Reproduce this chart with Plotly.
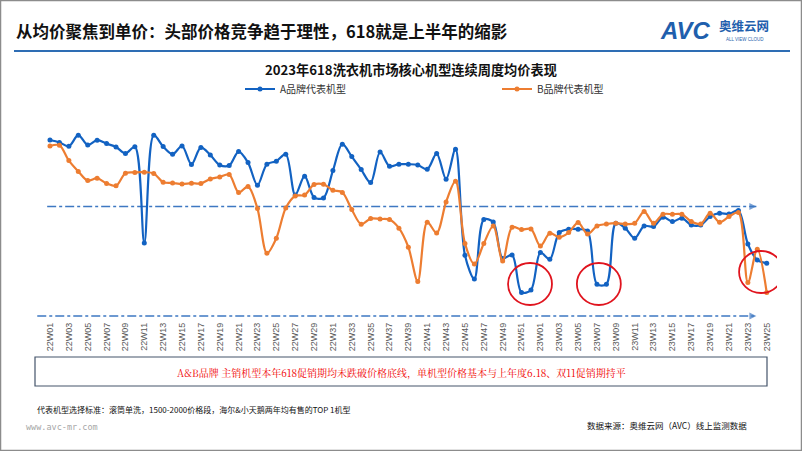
import plotly.graph_objects as go

# ---------------- data ----------------
weeks = [f"22W{i:02d}" for i in range(1, 53)] + [f"23W{i:02d}" for i in range(1, 26)]

brand_a = [2100, 2088, 2069, 2124, 2075, 2099, 2082, 2065, 2033, 2066,
           1585, 2124, 2067, 2029, 2070, 1978, 2063, 2025, 1975, 1972,
           2042, 1987, 1874, 1979, 1994, 2029, 1825, 1919, 1813, 1810,
           1947, 2079, 2017, 1952, 1887, 2040, 1969, 1979, 1979, 1975,
           1954, 2032, 1904, 2054, 1524, 1405, 1702, 1690, 1508, 1525,
           1338, 1350, 1537, 1504, 1637, 1654, 1654, 1645, 1379, 1379,
           1684, 1659, 1609, 1670, 1667, 1714, 1692, 1709, 1675, 1675,
           1717, 1734, 1730, 1747, 1580, 1500, 1484]

brand_b = [2070, 2074, 1997, 1943, 1897, 1909, 1883, 1871, 1934, 1938,
           1939, 1933, 1889, 1885, 1880, 1884, 1883, 1905, 1915, 1927,
           1838, 1867, 1757, 1534, 1609, 1760, 1820, 1825, 1877, 1879,
           1849, 1838, 1752, 1679, 1707, 1705, 1702, 1659, 1564, 1393,
           1689, 1635, 1790, 1894, 1583, 1480, 1582, 1670, 1495, 1664,
           1652, 1655, 1570, 1634, 1614, 1637, 1687, 1630, 1670, 1680,
           1684, 1680, 1684, 1742, 1684, 1729, 1729, 1729, 1692, 1680,
           1734, 1689, 1717, 1737, 1387, 1554, 1337]

upper_ref = 1768   # upper dash-dot reference line
lower_ref = 1220   # lower dash-dot reference line (price floor)

series_names = ["A品牌代表机型", "B品牌代表机型"]
tick_idx = list(range(0, len(weeks), 2))
tick_labels = [weeks[i] for i in tick_idx]

# highlighted weeks (red circles): (x center index, y center value)
highlights = [(50.9, 1380), (58.2, 1380), (75.4, 1440)]

# ---------------- layout constants ----------------
W, H = 802, 451
L, R, T, B = 35, 25, 130, 131
PW, PH = W - L - R, H - T - B
X0, X1 = -1.59, 77.09
Y0, Y1 = 1200, 2150

def px(x):
    return (x - L) / PW

def py(y):
    return (T + PH - y) / PH

BLUE = "#1262C2"
ORANGE = "#ED7D31"
CJK = "Noto Sans CJK SC"

xs = list(range(len(weeks)))
fig = go.Figure()

# reference lines
for ref, xstart in [(upper_ref, -0.3), (lower_ref, -1.35)]:
    fig.add_trace(go.Scatter(
        x=[xstart, 74.9], y=[ref, ref], mode="lines+markers",
        line=dict(color="#3E78C2", width=1.5, dash="dashdot"),
        marker=dict(symbol=["circle", "arrow-right"], size=[0, 7],
                    color="#3E78C2", line=dict(width=0)),
        showlegend=False, hoverinfo="skip"))

fig.add_trace(go.Scatter(
    x=xs, y=brand_a, name=series_names[0], mode="lines+markers",
    line=dict(color=BLUE, width=2.2, shape="spline", smoothing=0.9),
    marker=dict(size=5, color=BLUE)))
fig.add_trace(go.Scatter(
    x=xs, y=brand_b, name=series_names[1], mode="lines+markers",
    line=dict(color=ORANGE, width=2.2, shape="spline", smoothing=0.9),
    marker=dict(size=5, color=ORANGE)))

shapes = []
for cx, cy in highlights:
    shapes.append(dict(type="circle", xref="x", yref="y",
                       x0=cx - 2.33, x1=cx + 2.33, y0=cy - 105, y1=cy + 105,
                       line=dict(color="#E0141E", width=1.8)))
# header rule
shapes.append(dict(type="line", xref="paper", yref="paper",
                   x0=px(14), x1=px(790), y0=py(51), y1=py(51),
                   line=dict(color="#2E6DB4", width=2)))
# text box
shapes.append(dict(type="rect", xref="paper", yref="paper",
                   x0=px(35), x1=px(767), y0=py(386), y1=py(357),
                   line=dict(color="#44546A", width=1.2)))
# outer border
shapes.append(dict(type="rect", xref="paper", yref="paper",
                   x0=px(0.5), x1=px(801.5), y0=py(450.5), y1=py(0.5),
                   line=dict(color="#8C8C8C", width=1.5)))

ann = []
def text(x, y, s, size, color="#000000", xanchor="left", bold=False, family=CJK, yanchor="middle"):
    ann.append(dict(x=px(x), y=py(y), xref="paper", yref="paper", text=(f"<b>{s}</b>" if bold else s),
                    showarrow=False, xanchor=xanchor, yanchor=yanchor,
                    font=dict(size=size, color=color, family=family)))

text(14, 31, "从均价聚焦到单价：头部价格竞争趋于理性，618就是上半年的缩影", 16.5, "#111111", bold=True)
text(411, 70, "2023年618洗衣机市场核心机型连续周度均价表现", 13.2, "#111111", xanchor="center", bold=True)
text(401, 372, "A&B品牌 主销机型本年618促销期均未跌破价格底线，单机型价格基本与上年度6.18、双11促销期持平",
     10, "#F00000", xanchor="center", family="Noto Serif CJK SC, Noto Sans CJK SC")
text(35, 409, "代表机型选择标准：滚筒单洗，1500-2000价格段，海尔&小天鹅两年均有售的TOP 1机型", 8, "#111111")
text(24, 427, "www.avc-mr.com", 8.5, "#A6A6A6", family="DejaVu Sans Mono")
text(585, 425, "数据来源：奥维云网（AVC）线上监测数据", 8.5, "#111111")
# logo
text(658, 31, "<i>AVC</i>", 24, "#1F5FAD", bold=True, family="Liberation Sans")
text(717, 25, "奥维云网", 12.5, "#1F5FAD", bold=True)
text(745, 39, "ALL VIEW CLOUD", 4.5, "#1F5FAD", xanchor="center", family="Liberation Sans")

fig.update_layout(
    width=W, height=H, margin=dict(l=L, r=R, t=T, b=B),
    paper_bgcolor="white", plot_bgcolor="white",
    shapes=shapes, annotations=ann,
    showlegend=True,
    legend=dict(orientation="h", x=px(240), y=py(89), xanchor="left", yanchor="middle",
                entrywidth=212, entrywidthmode="pixels", itemwidth=30,
                font=dict(size=10, color="#333333", family=CJK),
                traceorder="normal", bgcolor="rgba(0,0,0,0)"),
    xaxis=dict(range=[X0, X1], tickvals=tick_idx, ticktext=tick_labels, tickangle=-90,
               showgrid=False, zeroline=False, showline=False, ticks="",
               tickfont=dict(size=9, color="#595959", family="Liberation Sans")),
    yaxis=dict(range=[Y0, Y1], visible=False),
)

fig.write_html("out.html", config={"displayModeBar": False},
               post_script="document.body.style.margin='0';document.body.style.overflow='hidden';")
